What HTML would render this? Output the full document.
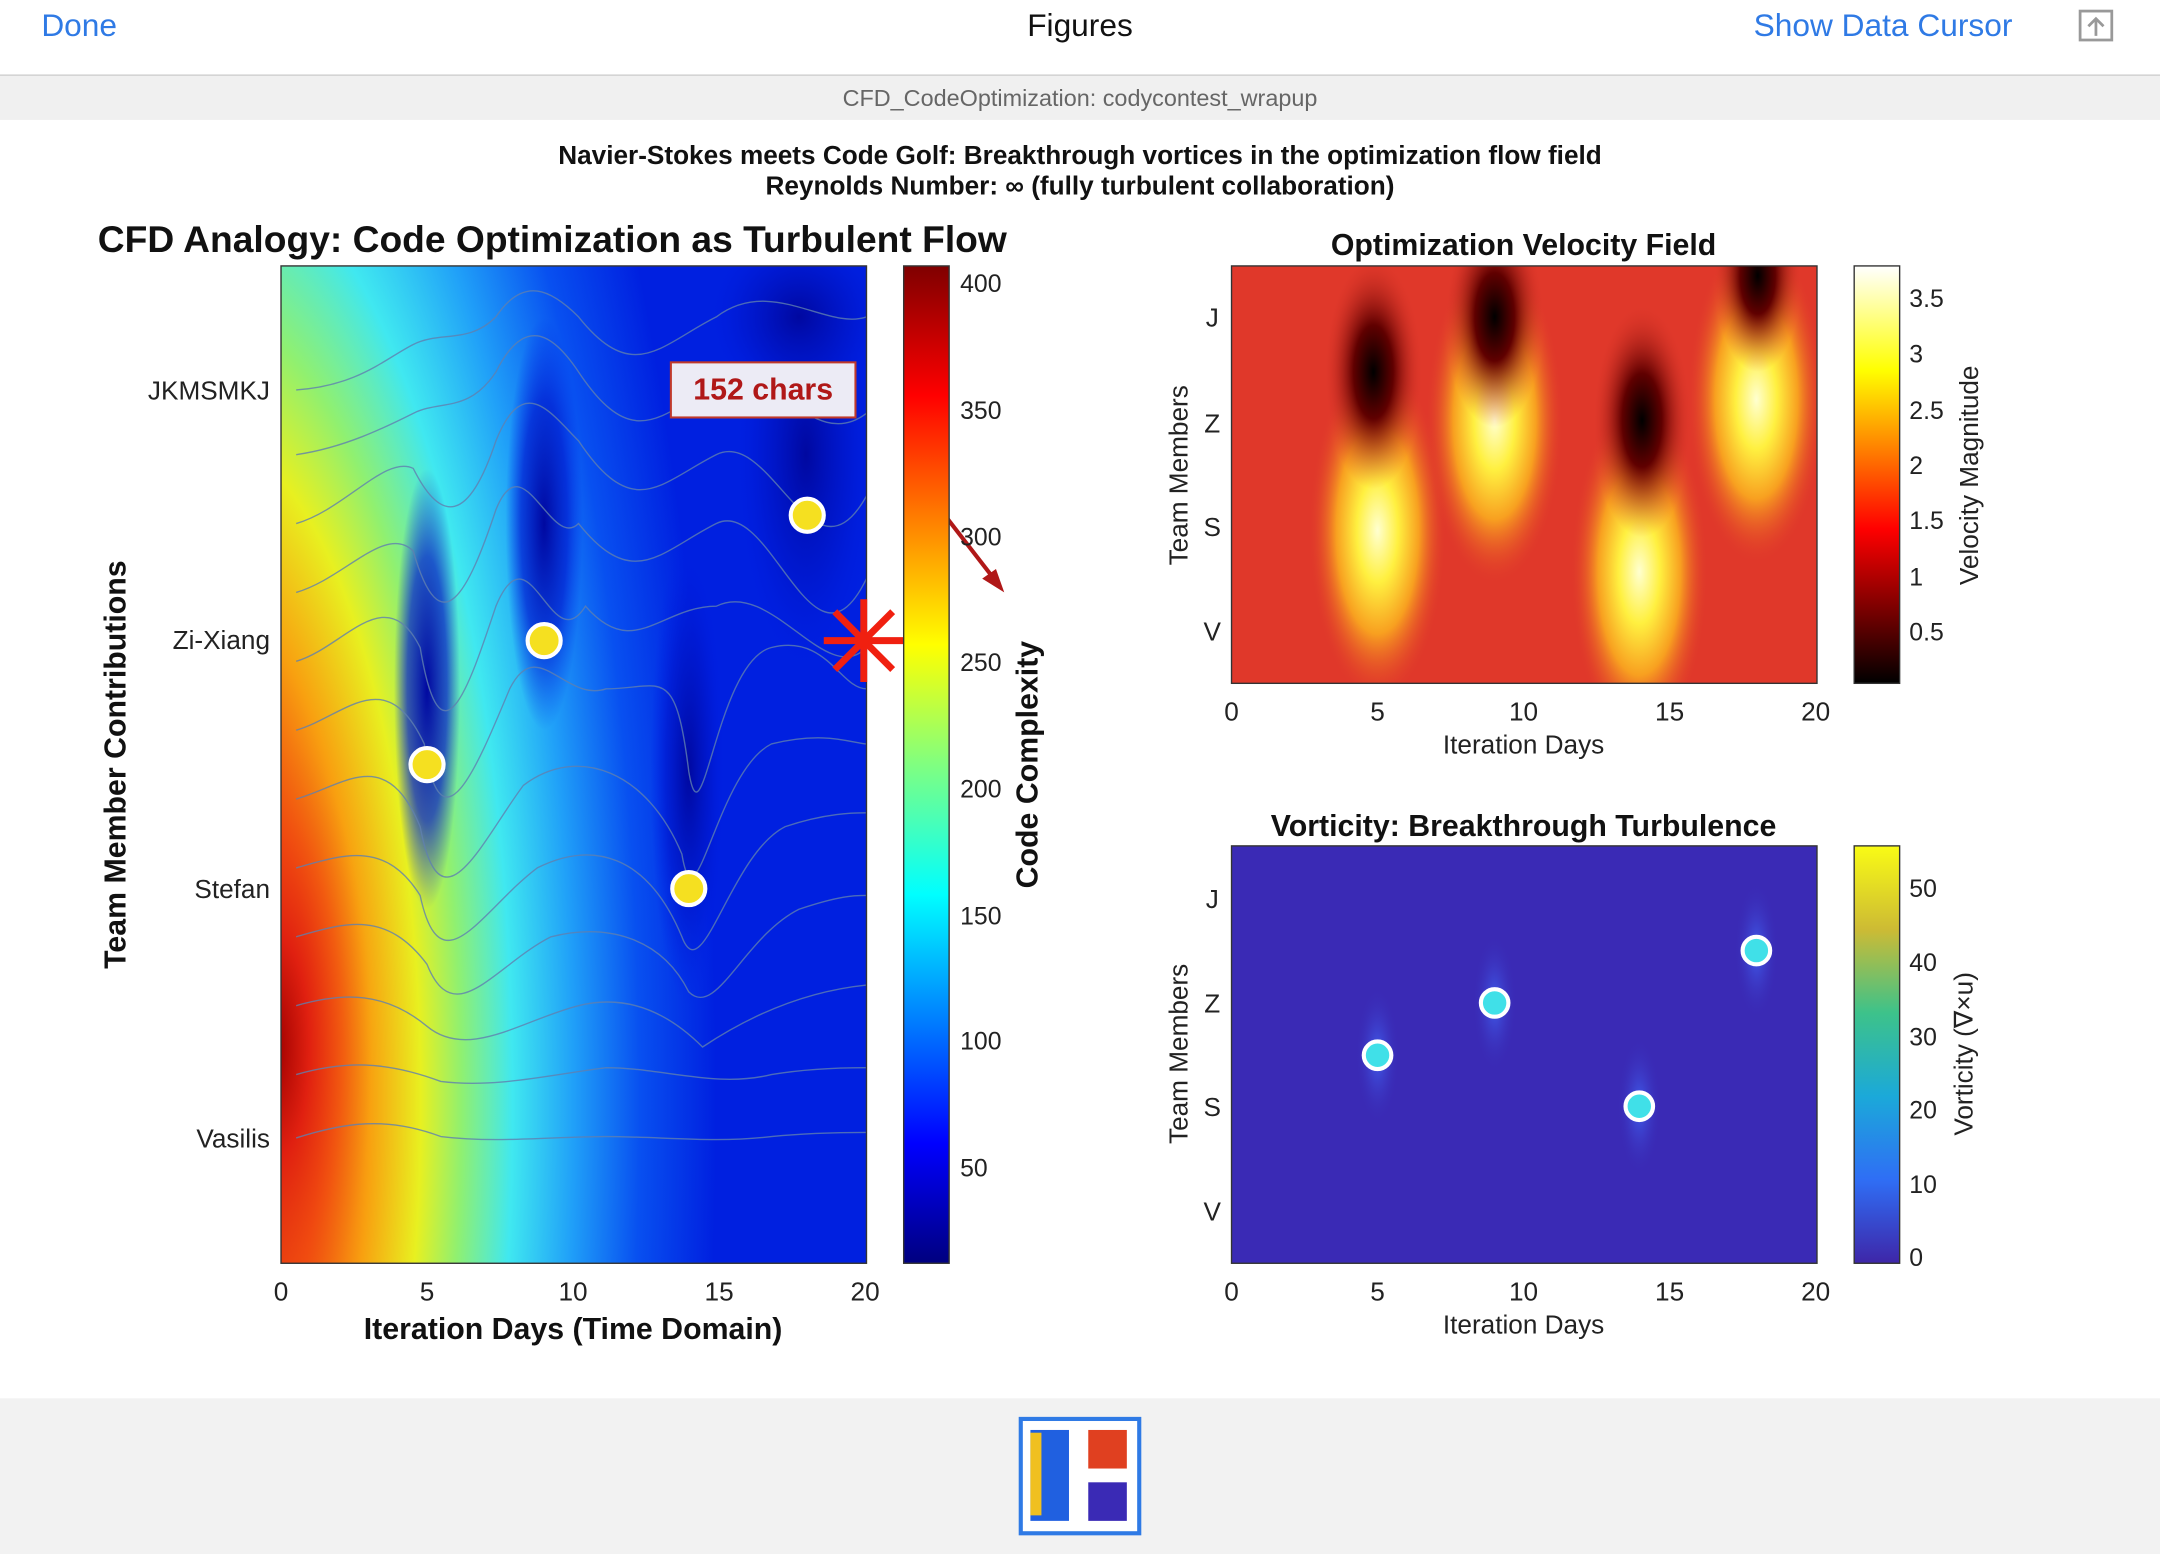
<!DOCTYPE html>
<html><head><meta charset="utf-8"><style>
html,body{margin:0;padding:0;background:#fff}
svg{display:block}
text{font-family:"Liberation Sans",sans-serif}
</style></head><body>
<svg width="2160" height="1554" viewBox="0 0 1568 1128" xmlns="http://www.w3.org/2000/svg">
<defs>
<radialGradient id="mainG" cx="150" cy="800" r="370" gradientUnits="userSpaceOnUse" gradientTransform="translate(150 800) scale(1 3.1) translate(-150 -800)">
<stop offset="0" stop-color="#800000"/><stop offset="0.12" stop-color="#d01010"/><stop offset="0.22" stop-color="#f04010"/><stop offset="0.32" stop-color="#f8a010"/><stop offset="0.42" stop-color="#e8f020"/><stop offset="0.5" stop-color="#90f070"/><stop offset="0.6" stop-color="#40e8f0"/><stop offset="0.72" stop-color="#20a0f8"/><stop offset="0.85" stop-color="#0850f0"/><stop offset="1" stop-color="#0020e0"/>
</radialGradient>
<radialGradient id="redb"><stop offset="0" stop-color="#a00000"/><stop offset="0.35" stop-color="#e02010"/><stop offset="0.7" stop-color="#f05010" stop-opacity="0.6"/><stop offset="1" stop-color="#f08010" stop-opacity="0"/></radialGradient>
<linearGradient id="jet" x1="0" y1="1" x2="0" y2="0">
<stop offset="0" stop-color="#00007f"/><stop offset="0.12" stop-color="#0000ff"/><stop offset="0.37" stop-color="#00ffff"/><stop offset="0.5" stop-color="#80ff80"/><stop offset="0.62" stop-color="#ffff00"/><stop offset="0.87" stop-color="#ff0000"/><stop offset="1" stop-color="#7f0000"/>
</linearGradient>
<linearGradient id="hot" x1="0" y1="1" x2="0" y2="0">
<stop offset="0" stop-color="#000"/><stop offset="0.37" stop-color="#ff0000"/><stop offset="0.75" stop-color="#ffff00"/><stop offset="1" stop-color="#fff"/>
</linearGradient>
<linearGradient id="parula" x1="0" y1="1" x2="0" y2="0">
<stop offset="0" stop-color="#3e26a8"/><stop offset="0.2" stop-color="#2f6ef5"/><stop offset="0.4" stop-color="#1ba9d9"/><stop offset="0.6" stop-color="#3dc28a"/><stop offset="0.8" stop-color="#cdbb34"/><stop offset="1" stop-color="#f9fb15"/>
</linearGradient>
<radialGradient id="yb"><stop offset="0" stop-color="#ffffd0"/><stop offset="0.3" stop-color="#fff040"/><stop offset="0.6" stop-color="#f8a020"/><stop offset="1" stop-color="#e0382a" stop-opacity="0"/></radialGradient>
<radialGradient id="db"><stop offset="0" stop-color="#000"/><stop offset="0.4" stop-color="#600000"/><stop offset="1" stop-color="#e0382a" stop-opacity="0"/></radialGradient>
<radialGradient id="vb"><stop offset="0" stop-color="#4060f0"/><stop offset="1" stop-color="#3a2ab5" stop-opacity="0"/></radialGradient>
<radialGradient id="tr"><stop offset="0" stop-color="#0008a0"/><stop offset="0.6" stop-color="#0018d0" stop-opacity="0.7"/><stop offset="1" stop-color="#0020e8" stop-opacity="0"/></radialGradient>
<clipPath id="c1"><rect x="204" y="193" width="425" height="724"/></clipPath>
<clipPath id="c2"><rect x="894" y="193" width="425" height="303"/></clipPath>
<clipPath id="c3"><rect x="894" y="614" width="425" height="303"/></clipPath>
</defs>
<rect x="0" y="0" width="1568" height="54" fill="#fff"/>
<line x1="0" y1="54.5" x2="1568" y2="54.5" stroke="#c8c8c8"/>
<text x="30" y="26" font-size="23" fill="#2f7ae5">Done</text>
<text x="784" y="26" font-size="23" text-anchor="middle" fill="#111">Figures</text>
<text x="1273" y="26" font-size="23" fill="#2f7ae5">Show Data Cursor</text>
<rect x="1510" y="8" width="23" height="21" fill="none" stroke="#999" stroke-width="2"/>
<path d="M1521.5 26 V14 M1516 19 l5.5-5.5 5.5 5.5" fill="none" stroke="#999" stroke-width="2"/>
<rect x="0" y="55" width="1568" height="32" fill="#f0f0f0"/>
<text x="784" y="77" font-size="17" text-anchor="middle" fill="#666">CFD_CodeOptimization: codycontest_wrapup</text>
<rect x="0" y="1015" width="1568" height="113" fill="#f2f2f2"/>
<rect x="741" y="1030" width="86" height="83" fill="#fff" stroke="#2f7ae5" stroke-width="3"/>
<rect x="748" y="1038" width="28" height="66" fill="#2060e0"/><rect x="748" y="1040" width="8" height="60" fill="#f0c020"/>
<rect x="790" y="1038" width="28" height="28" fill="#e04020"/><rect x="790" y="1076" width="28" height="28" fill="#3a2ab5"/>
<text x="784" y="119" font-size="19" font-weight="bold" text-anchor="middle" fill="#111">Navier-Stokes meets Code Golf: Breakthrough vortices in the optimization flow field</text>
<text x="784" y="141" font-size="19" font-weight="bold" text-anchor="middle" fill="#111">Reynolds Number: ∞ (fully turbulent collaboration)</text>
<text x="71" y="183" font-size="27" font-weight="bold" fill="#111">CFD Analogy: Code Optimization as Turbulent Flow</text>
<g clip-path="url(#c1)">
<rect x="204" y="193" width="425" height="724" fill="#0018e0"/>
<rect x="204" y="193" width="425" height="724" fill="url(#mainG)"/>
<ellipse cx="200" cy="760" rx="70" ry="230" fill="url(#redb)"/>
<ellipse cx="310" cy="500" rx="24" ry="160" fill="url(#tr)"/>
<ellipse cx="395" cy="380" rx="28" ry="150" fill="url(#tr)"/>
<ellipse cx="500" cy="560" rx="28" ry="170" fill="url(#tr)"/>
<ellipse cx="585" cy="330" rx="55" ry="170" fill="url(#tr)"/>
<ellipse cx="580" cy="230" rx="70" ry="70" fill="url(#tr)"/>
<g fill="none" stroke="#6080b0" stroke-width="1" opacity="0.8">
<path d="M215 283 C260 280 280 260 300 250 C320 240 340 250 360 230 C380 200 400 210 420 230 C460 280 480 250 520 230 C560 200 600 240 629 230"/>
<path d="M215 330 C250 325 280 310 300 300 C320 290 340 300 360 270 C380 230 400 240 420 270 C460 330 480 300 520 280 C560 260 590 330 629 300"/>
<path d="M215 380 C250 370 280 330 300 340 C320 380 340 380 360 320 C380 270 400 300 420 320 C460 380 480 350 520 330 C560 310 590 430 629 360"/>
<path d="M215 430 C250 420 280 380 300 400 C320 470 340 430 360 370 C380 320 400 400 420 380 C460 430 480 400 520 380 C560 360 590 500 629 420"/>
<path d="M215 480 C250 470 280 420 305 470 C320 560 340 500 360 440 C385 380 400 480 425 440 C460 480 480 440 520 440 C560 420 600 500 629 470"/>
<path d="M215 530 C250 520 280 480 308 540 C320 620 345 560 370 500 C390 460 410 510 440 500 C480 500 490 480 500 560 C510 620 520 480 560 470 C600 460 610 500 629 500"/>
<path d="M215 580 C250 570 280 540 305 600 C320 680 350 610 380 570 C420 540 470 560 495 620 C505 680 520 560 560 540 C600 530 620 540 629 540"/>
<path d="M215 630 C250 620 280 610 305 650 C320 720 350 660 390 630 C430 610 470 620 495 680 C510 720 530 620 570 600 C600 590 620 590 629 590"/>
<path d="M215 680 C250 670 280 660 310 700 C330 750 360 700 400 680 C440 670 480 680 500 720 C520 740 540 680 580 660 C610 650 620 650 629 650"/>
<path d="M215 730 C250 720 280 720 310 745 C340 770 380 740 420 730 C460 720 490 740 510 760 C540 740 580 720 629 715"/>
<path d="M215 780 C250 770 280 770 320 785 C360 790 400 780 440 775 C480 775 520 790 560 780 C590 775 620 775 629 775"/>
<path d="M215 826 C250 815 280 810 320 825 C360 830 400 825 440 825 C480 825 520 830 560 825 C590 822 620 822 629 822"/>
</g>
</g>
<rect x="204" y="193" width="425" height="724" fill="none" stroke="#333" stroke-width="1"/>
<g fill="#f5e020" stroke="#fff" stroke-width="3">
<circle cx="310" cy="555" r="12"/><circle cx="395" cy="465" r="12"/><circle cx="500" cy="645" r="12"/><circle cx="586" cy="374" r="12"/>
</g>
<rect x="487" y="263" width="134" height="40" fill="#ecebf5" stroke="#c0392b" stroke-width="1.5"/>
<text x="554" y="290" font-size="22" font-weight="bold" fill="#b01818" text-anchor="middle">152  chars</text>
<line x1="658" y1="338" x2="723" y2="422" stroke="#b01818" stroke-width="3"/>
<path d="M729 430 l-16-10 10-7z" fill="#b01818"/>
<g stroke="#f02010" stroke-width="5"><line x1="627" y1="435" x2="627" y2="495"/><line x1="598" y1="465" x2="656" y2="465"/><line x1="606" y1="444" x2="648" y2="486"/><line x1="606" y1="486" x2="648" y2="444"/></g>
<g font-size="19" fill="#222" text-anchor="end">
<text x="196" y="290">JKMSMKJ</text><text x="196" y="471">Zi-Xiang</text><text x="196" y="652">Stefan</text><text x="196" y="833">Vasilis</text>
</g>
<g font-size="19" fill="#222" text-anchor="middle">
<text x="204" y="944">0</text><text x="310" y="944">5</text><text x="416" y="944">10</text><text x="522" y="944">15</text><text x="628" y="944">20</text>
</g>
<text x="416" y="972" font-size="22" font-weight="bold" text-anchor="middle" fill="#111">Iteration Days (Time Domain)</text>
<text transform="translate(91 555) rotate(-90)" font-size="22" font-weight="bold" text-anchor="middle" fill="#111">Team Member Contributions</text>
<rect x="656" y="193" width="33" height="724" fill="url(#jet)" stroke="#333"/>
<g font-size="18" fill="#222">
<text x="697" y="212">400</text><text x="697" y="304">350</text><text x="697" y="396">300</text><text x="697" y="487">250</text><text x="697" y="579">200</text><text x="697" y="671">150</text><text x="697" y="762">100</text><text x="697" y="854">50</text>
</g>
<text transform="translate(753 555) rotate(-90)" font-size="22" font-weight="bold" text-anchor="middle" fill="#111">Code Complexity</text>
<text x="1106" y="185" font-size="22" font-weight="bold" text-anchor="middle" fill="#111">Optimization Velocity Field</text>
<g clip-path="url(#c2)">
<rect x="894" y="193" width="425" height="303" fill="#e0382a"/>
<ellipse cx="1000" cy="385" rx="50" ry="125" fill="url(#yb)"/>
<ellipse cx="1085" cy="305" rx="50" ry="120" fill="url(#yb)"/>
<ellipse cx="1190" cy="415" rx="50" ry="125" fill="url(#yb)"/>
<ellipse cx="1275" cy="290" rx="50" ry="120" fill="url(#yb)"/>
<ellipse cx="997" cy="270" rx="36" ry="85" fill="url(#db)"/>
<ellipse cx="1085" cy="230" rx="36" ry="80" fill="url(#db)"/>
<ellipse cx="1192" cy="305" rx="36" ry="85" fill="url(#db)"/>
<ellipse cx="1276" cy="200" rx="32" ry="70" fill="url(#db)"/>
</g>
<rect x="894" y="193" width="425" height="303" fill="none" stroke="#333"/>
<g font-size="19" fill="#222" text-anchor="middle">
<text x="880" y="237">J</text><text x="880" y="314">Z</text><text x="880" y="389">S</text><text x="880" y="465">V</text>
<text x="894" y="523">0</text><text x="1000" y="523">5</text><text x="1106" y="523">10</text><text x="1212" y="523">15</text><text x="1318" y="523">20</text>
<text x="1106" y="547">Iteration Days</text>
<text transform="translate(862 345) rotate(-90)">Team Members</text>
</g>
<rect x="1346" y="193" width="33" height="303" fill="url(#hot)" stroke="#333"/>
<g font-size="18" fill="#222">
<text x="1386" y="223">3.5</text><text x="1386" y="263">3</text><text x="1386" y="304">2.5</text><text x="1386" y="344">2</text><text x="1386" y="384">1.5</text><text x="1386" y="425">1</text><text x="1386" y="465">0.5</text>
</g>
<text transform="translate(1436 345) rotate(-90)" font-size="19" text-anchor="middle" fill="#222">Velocity Magnitude</text>
<text x="1106" y="607" font-size="22" font-weight="bold" text-anchor="middle" fill="#111">Vorticity: Breakthrough Turbulence</text>
<g clip-path="url(#c3)">
<rect x="894" y="614" width="425" height="303" fill="#3a2ab5"/>
<ellipse cx="1000" cy="766" rx="16" ry="50" fill="url(#vb)"/>
<ellipse cx="1085" cy="728" rx="16" ry="50" fill="url(#vb)"/>
<ellipse cx="1190" cy="803" rx="16" ry="50" fill="url(#vb)"/>
<ellipse cx="1275" cy="690" rx="16" ry="50" fill="url(#vb)"/>
</g>
<rect x="894" y="614" width="425" height="303" fill="none" stroke="#333"/>
<g fill="#40e0e8" stroke="#fff" stroke-width="3">
<circle cx="1000" cy="766" r="10"/><circle cx="1085" cy="728" r="10"/><circle cx="1190" cy="803" r="10"/><circle cx="1275" cy="690" r="10"/>
</g>
<g font-size="19" fill="#222" text-anchor="middle">
<text x="880" y="659">J</text><text x="880" y="735">Z</text><text x="880" y="810">S</text><text x="880" y="886">V</text>
<text x="894" y="944">0</text><text x="1000" y="944">5</text><text x="1106" y="944">10</text><text x="1212" y="944">15</text><text x="1318" y="944">20</text>
<text x="1106" y="968">Iteration Days</text>
<text transform="translate(862 765) rotate(-90)">Team Members</text>
</g>
<rect x="1346" y="614" width="33" height="303" fill="url(#parula)" stroke="#333"/>
<g font-size="18" fill="#222">
<text x="1386" y="651">50</text><text x="1386" y="705">40</text><text x="1386" y="759">30</text><text x="1386" y="812">20</text><text x="1386" y="866">10</text><text x="1386" y="919">0</text>
</g>
<text transform="translate(1432 765) rotate(-90)" font-size="19" text-anchor="middle" fill="#222">Vorticity (∇×u)</text>
</svg>
</body></html>
